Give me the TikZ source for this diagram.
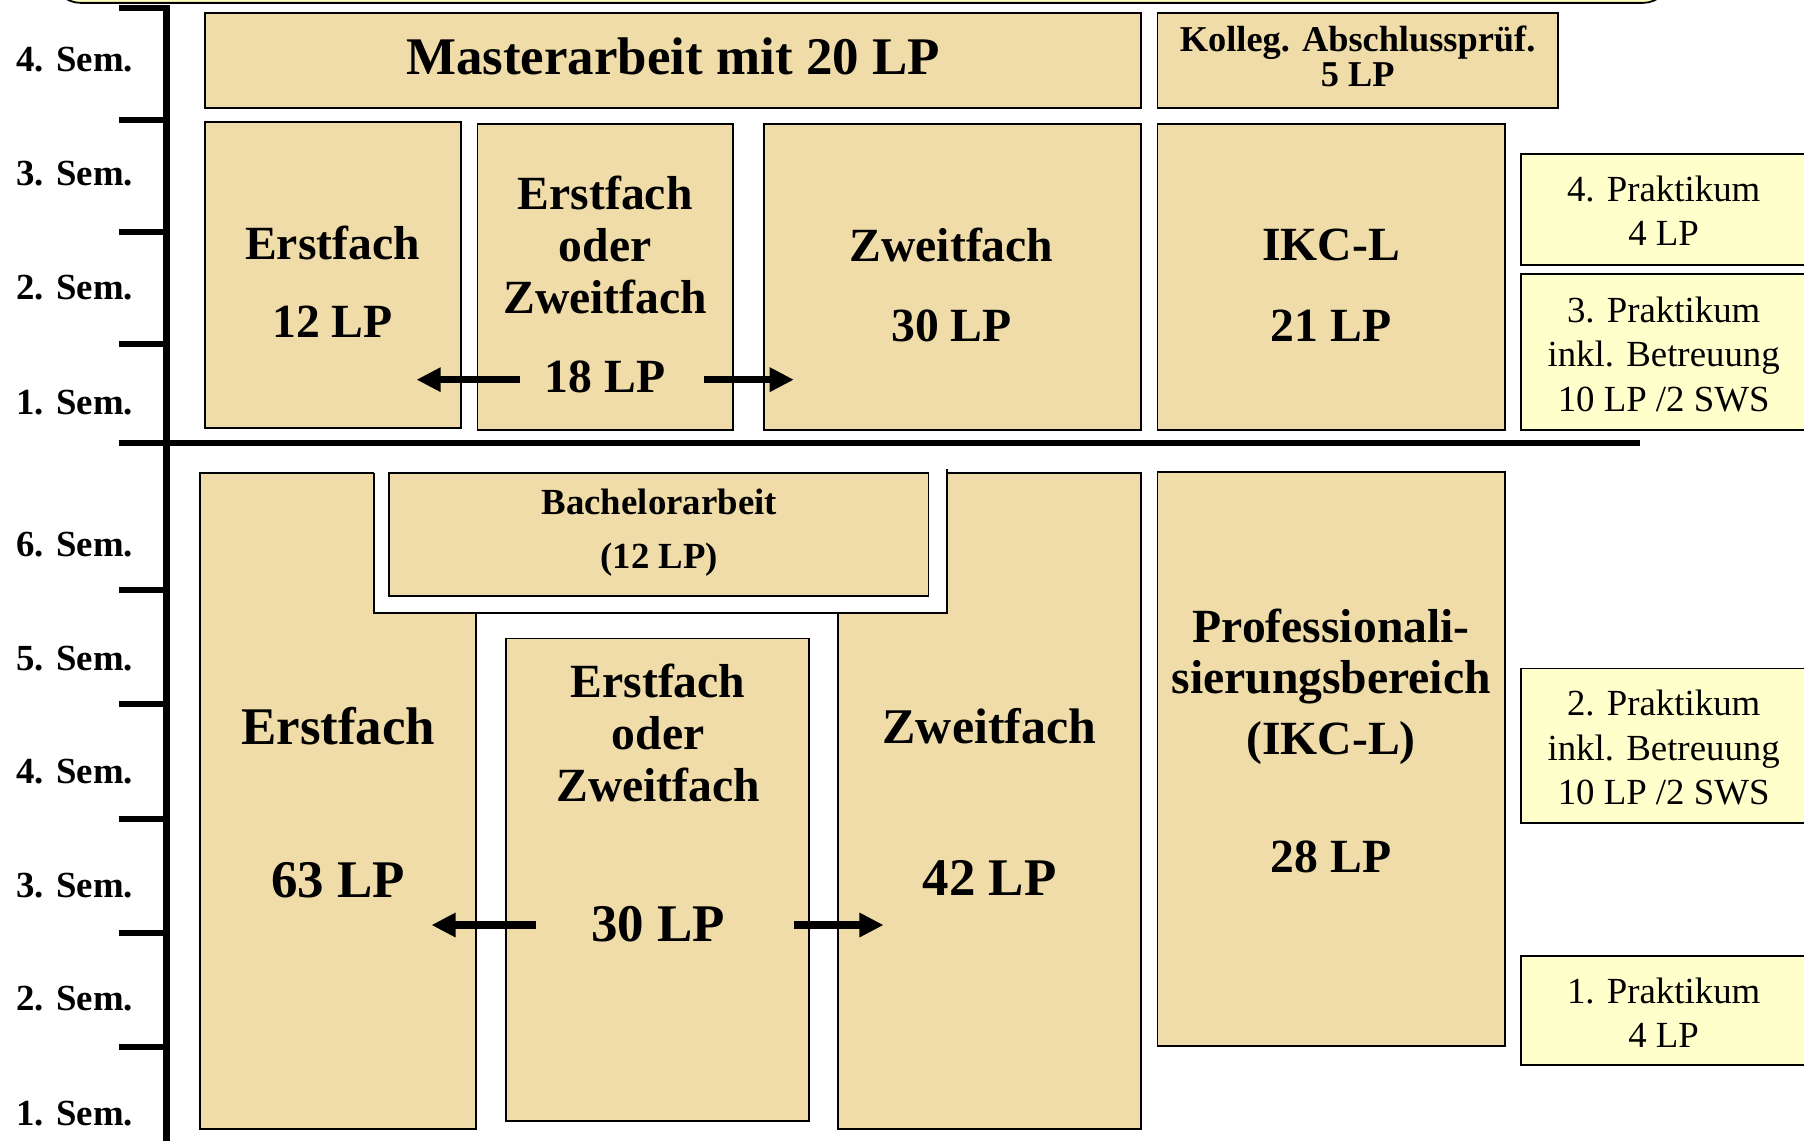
\documentclass[tikz,border=0pt]{standalone}
\usepackage{fontspec}
\setmainfont{Liberation Serif}
\usetikzlibrary{arrows.meta,fit}
\definecolor{boxtan}{RGB}{240,220,168}
\definecolor{prakyel}{RGB}{255,255,204}
\definecolor{banyel}{RGB}{255,255,190}
\newcommand{\fsz}[2]{\fontsize{#1}{#2}\selectfont}
\begin{document}
\begin{tikzpicture}[x=0.5pt,y=-0.5pt,
  box/.style={draw=black,line width=0.8pt,fill=boxtan,inner sep=0pt},
  prak/.style={draw=black,line width=0.8pt,fill=prakyel,inner sep=0pt},
  semlab/.style={font={\fsz{16}{18}\bfseries},anchor=west,inner sep=0pt},
  lbl/.style={font={\fsz{20.7}{22.5}\bfseries},align=center,inner sep=0pt},
  lblbig/.style={font={\fsz{23}{25}\bfseries},align=center,inner sep=0pt},
  praktxt/.style={font={\fsz{16}{19.3}},align=center,inner sep=0pt},
  axisline/.style={line width=3pt},
  tickline/.style={line width=2.6pt},
  arr/.style={line width=3.3pt,-{Triangle[length=10.5pt,width=10pt]}},
]
\useasboundingbox (0,0) rectangle (1568,991);
\clip (0,0) rectangle (1568,991);

% banner at the top (cut off)
\node[draw=black,line width=0.8pt,fill=banyel,rounded corners=12pt,inner sep=0pt,fit={(46,-60)(1452,2.5)}] (banner) {};

% axis
\draw[axisline] (145,4.5) -- (145,995);
\foreach \yy in {7,104,202,299,513,612,712,811,910}{
  \draw[tickline] (103,\yy) -- (145,\yy);
}
\draw[axisline] (103,385) -- (1425,385);

% semester labels
\node[semlab] (s4m) at (14,52) {4. Sem.};
\node[semlab] (s3m) at (14,151) {3. Sem.};
\node[semlab] (s2m) at (14,250) {2. Sem.};
\node[semlab] (s1m) at (14,350) {1. Sem.};
\node[semlab] (s6b) at (14,473) {6. Sem.};
\node[semlab] (s5b) at (14,572) {5. Sem.};
\node[semlab] (s4b) at (14,671) {4. Sem.};
\node[semlab] (s3b) at (14,770) {3. Sem.};
\node[semlab] (s2b) at (14,868) {2. Sem.};
\node[semlab] (s1b) at (14,968) {1. Sem.};

% ---- Master ----
\node[box,fit={(178,11)(992,94)}] (master) {};
\node[lblbig] (mastert) at (585,49) {Masterarbeit mit 20 LP};
\node[box,fit={(1006,11)(1354,94)}] (kolleg) {};
\node[font={\fsz{15.8}{15.5}\bfseries},align=center,inner sep=0pt] (kollegt) at (1180,49) {Kolleg. Abschlussprüf.\\5 LP};

\node[box,fit={(178,106)(401,372)}] (e1) {};
\node[lbl] (e1a) at (289,211) {Erstfach};
\node[lbl] (e1b) at (289,280) {12 LP};
\node[box,fit={(415,108)(637,374)}] (eo1) {};
\node[lbl] (eo1a) at (526,213) {Erstfach\\oder\\Zweitfach};
\node[lbl] (eo1b) at (526,328) {18 LP};
\node[box,fit={(664,108)(992,374)}] (z1) {};
\node[lbl] (z1a) at (827,213) {Zweitfach};
\node[lbl] (z1b) at (827,283) {30 LP};
\node[box,fit={(1006,108)(1308,374)}] (ikc) {};
\node[lbl] (ikca) at (1157,213) {IKC-L};
\node[lbl] (ikcb) at (1157,283) {21 LP};
\node[prak,fit={(1322,134)(1580,230)}] (p4) {};
\node[praktxt] (p4t) at (1446,183) {4. Praktikum\\4 LP};
\node[prak,fit={(1322,238)(1580,374)}] (p3) {};
\node[praktxt] (p3t) at (1446,308) {3. Praktikum\\inkl. Betreuung\\10 LP /2 SWS};

\coordinate (a1s) at (452,330);
\coordinate (a1e) at (362,330);
\coordinate (a2s) at (612,330);
\coordinate (a2e) at (690,330);
\draw[arr] (a1s) -- (a1e);
\draw[arr] (a2s) -- (a2e);

% ---- Bachelor ----
\node[box,fit={(174,411)(414,981)}] (e2) {};
\node[box,fit={(728,411)(992,981)}] (z2) {};
\fill[white] (325,406) rectangle (823,533);
\draw[line width=0.8pt] (325,411) -- (325,533) -- (823,533) -- (823,408);
\node[box,fit={(338,411)(807,518)}] (ba) {};
\node[font={\fsz{16}{23.5}\bfseries},align=center,inner sep=0pt] (bat) at (573,463) {Bachelorarbeit\\(12 LP)};
\node[box,fit={(440,555)(703,974)}] (eo2) {};
\node[lbl] (eo2a) at (572,637) {Erstfach\\oder\\Zweitfach};
\node[lblbig] (eo2b) at (572,803) {30 LP};
\node[lblbig] (e2a) at (294,631) {Erstfach};
\node[lblbig] (e2b) at (294,765) {63 LP};
\node[font={\fsz{21.7}{23}\bfseries},inner sep=0pt] (z2a) at (860,631) {Zweitfach};
\node[lblbig] (z2b) at (860,763) {42 LP};
\node[box,fit={(1006,410)(1308,909)}] (prof) {};
\node[lbl] (profa) at (1157,597) {Professionali-\\sierungsbereich\\[4pt](IKC-L)};
\node[lbl] (profb) at (1157,745) {28 LP};
\node[prak,fit={(1322,581)(1580,715)}] (p2) {};
\node[praktxt] (p2t) at (1446,650) {2. Praktikum\\inkl. Betreuung\\10 LP /2 SWS};
\node[prak,fit={(1322,831)(1580,926)}] (p1) {};
\node[praktxt] (p1t) at (1446,880) {1. Praktikum\\4 LP};

\coordinate (b1s) at (466,804);
\coordinate (b1e) at (375,804);
\coordinate (b2s) at (690,804);
\coordinate (b2e) at (768,804);
\draw[arr] (b1s) -- (b1e);
\draw[arr] (b2s) -- (b2e);
\end{tikzpicture}
\end{document}
